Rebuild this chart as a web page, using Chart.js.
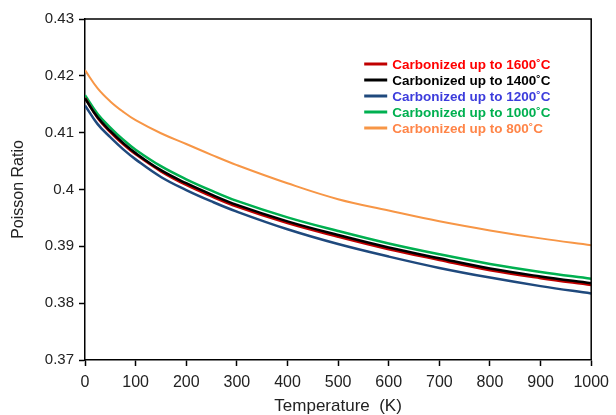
<!DOCTYPE html>
<html>
<head>
<meta charset="utf-8">
<script src="https://cdn.jsdelivr.net/npm/chart.js@4.4.1/dist/chart.umd.min.js"></script>
<style>
  html, body { margin: 0; padding: 0; background: #fff; }
  #wrap { position: relative; width: 616px; height: 415px; }
</style>
</head>
<body>
<div id="wrap"><canvas id="chart" width="616" height="415"></canvas></div>
<script>
var temps = [0, 25, 50, 75, 100, 150, 200, 250, 300, 400, 500, 600, 700, 800, 900, 1000];

// Poisson ratio per carbonization temperature
var p1600 = [0.4161, 0.4126, 0.4101, 0.4080, 0.4062, 0.4032, 0.4008, 0.3988, 0.3970, 0.3941, 0.3917, 0.3895, 0.3876, 0.3858, 0.3844, 0.3832];
var p1400 = [0.4160, 0.4127, 0.4103, 0.4082, 0.4064, 0.4034, 0.4011, 0.3991, 0.3973, 0.3944, 0.3920, 0.3898, 0.3879, 0.3861, 0.3847, 0.3835];
var p1200 = [0.4148, 0.4115, 0.4092, 0.4071, 0.4053, 0.4022, 0.3999, 0.3979, 0.3961, 0.3930, 0.3904, 0.3882, 0.3862, 0.3845, 0.3830, 0.3817];
var p1000 = [0.4166, 0.4133, 0.4109, 0.4088, 0.4070, 0.4041, 0.4018, 0.3998, 0.3980, 0.3951, 0.3927, 0.3905, 0.3886, 0.3869, 0.3855, 0.3843];
var p800  = [0.4210, 0.4178, 0.4155, 0.4137, 0.4122, 0.4099, 0.4080, 0.4061, 0.4043, 0.4011, 0.3983, 0.3963, 0.3944, 0.3928, 0.3914, 0.3902];

var seriesNames = ['Carbonized up to 1600˚C', 'Carbonized up to 1400˚C', 'Carbonized up to 1200˚C',
                   'Carbonized up to 1000˚C', 'Carbonized up to 800˚C'];

var FONT = "'Liberation Sans', Arial, sans-serif";

function pts(vals) {
  return temps.map(function (t, i) { return { x: t, y: vals[i] }; });
}

function ds(label, vals, color, textColor, width, order) {
  return {
    label: label,
    data: pts(vals),
    borderColor: color,
    textColor: textColor,
    borderWidth: width,
    pointRadius: 0,
    tension: 0.4,
    fill: false,
    order: order
  };
}

// box on top/right of the plot + legend inside the plot area
var framePlugin = {
  id: 'frame',
  afterDatasetsDraw: function (chart) {
    var c = chart.ctx, a = chart.chartArea;
    c.save();
    c.strokeStyle = '#000';
    c.lineWidth = 1.5;
    c.beginPath();
    c.moveTo(a.left, a.top);
    c.lineTo(a.right, a.top);
    c.lineTo(a.right, a.bottom);
    c.stroke();

    // legend
    c.font = 'bold 13.5px ' + FONT;
    c.textBaseline = 'middle';
    c.textAlign = 'left';
    var x0 = a.right - 227, x1 = a.right - 204, tx = a.right - 199;
    chart.data.datasets.forEach(function (d, i) {
      var y = a.top + 45 + i * 16;
      c.strokeStyle = d.borderColor;
      c.lineWidth = 3;
      c.beginPath();
      c.moveTo(x0, y);
      c.lineTo(x1, y);
      c.stroke();
      c.fillStyle = d.textColor;
      c.fillText(d.label, tx, y + 1);
    });
    c.restore();
  }
};

var ctx = document.getElementById('chart').getContext('2d');
var chart = new Chart(ctx, {
  type: 'line',
  data: {
    datasets: [
      ds(seriesNames[0], p1600, '#C00000', '#FF0000', 2.5, 1),
      ds(seriesNames[1], p1400, '#000000', '#000000', 2.5, 0),
      ds(seriesNames[2], p1200, '#1F497D', '#3C3CDC', 2.5, 3),
      ds(seriesNames[3], p1000, '#00B050', '#00B050', 2.5, 2),
      ds(seriesNames[4], p800,  '#F79646', '#FF8548', 2, 4)
    ]
  },
  options: {
    responsive: false,
    animation: false,
    events: [],
    layout: { padding: { top: 19, right: 24, left: 0, bottom: 0 } },
    plugins: {
      legend: { display: false },
      tooltip: { enabled: false }
    },
    scales: {
      x: {
        type: 'linear',
        min: 0,
        max: 1000,
        grid: { drawOnChartArea: false, tickLength: 6, color: '#000', tickWidth: 1.5 },
        border: { color: '#000', width: 1.5 },
        ticks: {
          stepSize: 100, color: '#222', font: { family: FONT, size: 16 }, padding: 7, maxRotation: 0,
          callback: function (v) { return String(v); }
        },
        title: { display: true, text: 'Temperature  (K)', color: '#222', font: { family: FONT, size: 17 }, padding: { top: 0, bottom: -2 } },
        afterFit: function (s) { s.height = 55; }
      },
      y: {
        min: 0.37,
        max: 0.43,
        grid: { drawOnChartArea: false, tickLength: 6, color: '#000', tickWidth: 1.5 },
        border: { color: '#000', width: 1.5 },
        ticks: {
          stepSize: 0.01,
          color: '#222',
          font: { family: FONT, size: 15 },
          padding: 5,
          callback: function (v) { return String(Number(v.toFixed(2))); }
        },
        title: { display: true, text: 'Poisson Ratio', color: '#222', font: { family: FONT, size: 16 }, padding: { top: 9, bottom: 4 } },
        afterFit: function (s) { s.width = 85; }
      }
    }
  },
  plugins: [framePlugin]
});
</script>
</body>
</html>
